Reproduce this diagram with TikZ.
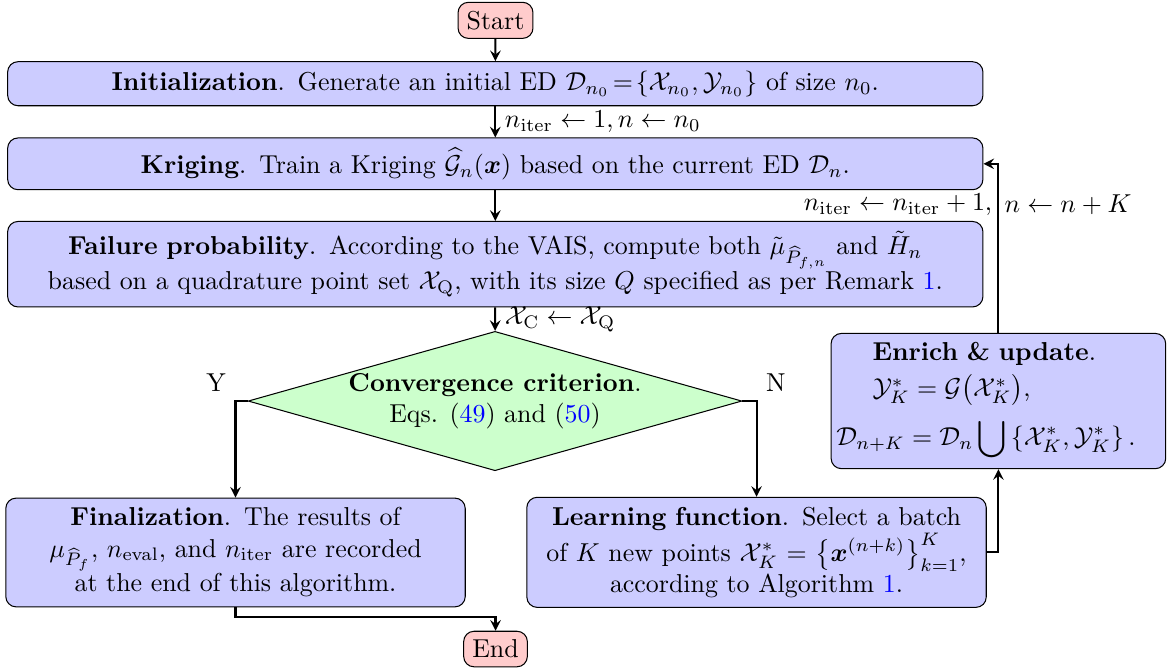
\documentclass[tikz,border=0pt]{standalone}
\usepackage{amsmath, amssymb}
\usepackage{bm}
\usepackage{tikz}
\usetikzlibrary{arrows,shapes.geometric}
\usetikzlibrary{calc}
\usetikzlibrary{positioning}

\begin{document}
\begin{tikzpicture}[
  > = stealth,
  term/.style = {draw,fill=red!20,rounded corners},
  stepbox/.style = {draw,fill=blue!20,rounded corners,align=center},
  decide/.style = {draw,fill=green!20,diamond,aspect=3.5,inner sep=0pt,minimum width=6.7cm,minimum height=1.89cm,align=center},
  link/.style = {->,thick}
  ]
	\useasboundingbox (0,0) rectangle (15.836,-9.078);

	\node[term] (start) at (6.724,-0.276) {Start};
	\node[stepbox, text width=13cm, minimum height=17pt] (init) at (6.721,-1.136)
		{\textbf{Initialization}. Generate an initial ED $\thickmuskip=2mu\mathcal{D}_{n_0}=\{\mathcal{X}_{n_0},\mathcal{Y}_{n_0}\}$ of size $n_0$.};
	\node[stepbox, text width=13cm, minimum height=20pt] (krig) at (6.721,-2.223)
		{\textbf{Kriging}. Train a Kriging $\widehat{\mathcal{G}}_n(\bm{x})$ based on the current ED $\mathcal{D}_n$.};
	\node[stepbox, text width=13cm, minimum height=33pt] (fail) at (6.721,-3.585)
		{\textbf{Failure probability}. According to the VAIS, compute both $\tilde{\mu}_{\widehat{P}_{f,n}}$ and $\tilde{H}_n$\\
		 based on a quadrature point set $\mathcal{X}_{\mathrm{Q}}$, with its size $Q$ specified as per Remark \textcolor{blue}{1}.};
	\node[decide] (conv) at (6.717,-5.442)
		{\textbf{Convergence criterion}.\\ Eqs. (\textcolor{blue}{49}) and (\textcolor{blue}{50})};
	\node[stepbox, text width=6cm, minimum height=42pt] (final) at (3.196,-7.497)
		{\textbf{Finalization}. The results of\\
		 $\mu_{\widehat{P}_f}$, $n_{\mathrm{eval}}$, and $n_{\mathrm{iter}}$ are recorded\\
		 at the end of this algorithm.};
	\node[stepbox, text width=6cm, minimum height=42.5pt] (learn) at (10.266,-7.495)
		{\textbf{Learning function}. Select a batch\\
		 of $K$ new points $\mathcal{X}^*_K=\big\{\bm{x}^{(n+k)}\big\}_{k=1}^{K}$,\\
		 according to Algorithm \textcolor{blue}{1}.};
	\node[stepbox, text width=4.4cm, inner xsep=2pt, align=left, minimum height=50.3pt] (enrich) at (13.548,-5.442)
		{\hspace*{14pt}\textbf{Enrich \& update}.\\[2pt]
		 \hspace*{14pt}$\mathcal{Y}^*_K=\mathcal{G}\bigl(\mathcal{X}^*_K\bigr)$,\\[4pt]
		 $\displaystyle\mathcal{D}_{n+K}=\mathcal{D}_n\bigcup\left\{\mathcal{X}^*_K,\mathcal{Y}^*_K\right\}.$};
	\node[term] (end) at (6.724,-8.807) {End};

	\draw[link] (start) -- (init);
	\draw[link] (init) -- node[right] {$n_{\mathrm{iter}}\leftarrow 1, n\leftarrow n_0$} (krig);
	\draw[link] (krig) -- (fail);
	\draw[link] (fail) -- node[right] {$\mathcal{X}_{\mathrm{C}}\leftarrow\mathcal{X}_{\mathrm{Q}}$} (conv);
	\draw[link] (conv.west) -| node[pos=0.5, above left] {Y} (final.north);
	\draw[link] (conv.east) -| node[pos=0.5, above right] {N} (learn.north);
	\draw[link] (final.south) -- ++(0,-0.136) -| (end.north);
	\draw[link] (learn.east) -| (enrich.south);
	\draw[link] (enrich.north) |- node[pos=0.38, left, inner sep=2pt] {$n_{\mathrm{iter}}\leftarrow n_{\mathrm{iter}}+1,$}
		node[pos=0.38, right, inner sep=2pt] {$n\leftarrow n+K$} (krig.east);
\end{tikzpicture}
\end{document}
